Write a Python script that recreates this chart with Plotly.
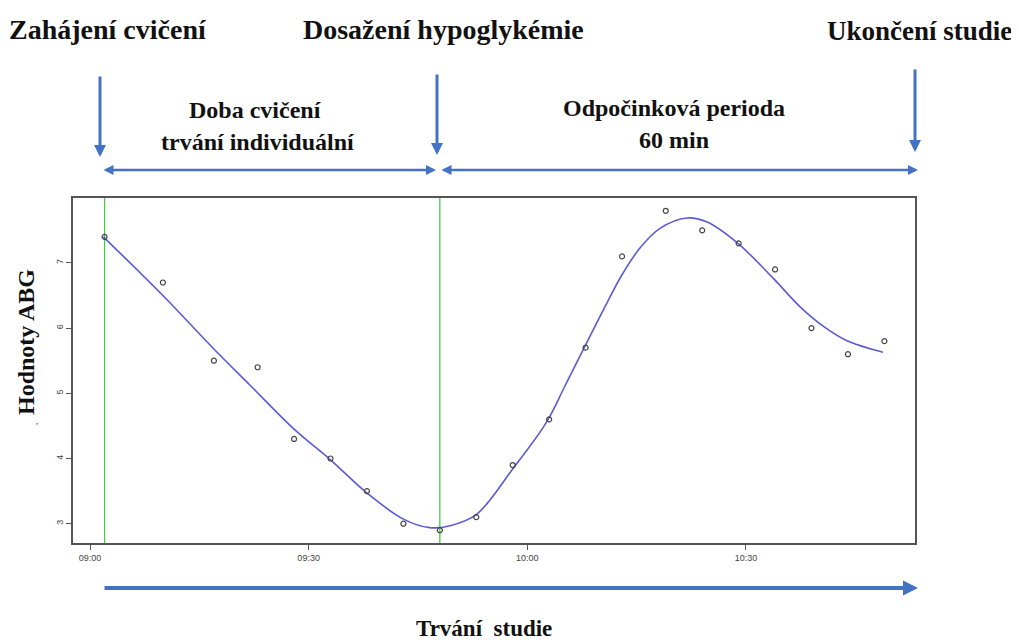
import plotly.graph_objects as go

# ---------------- data ----------------
point_times = ["09:02", "09:10", "09:17", "09:23", "09:28", "09:33", "09:38", "09:43",
               "09:48", "09:53", "09:58", "10:03", "10:08", "10:13", "10:19", "10:24",
               "10:29", "10:34", "10:39", "10:44", "10:49"]
point_values = [7.4, 6.7, 5.5, 5.4, 4.3, 4.0, 3.5, 3.0, 2.9, 3.1, 3.9, 4.6, 5.7, 7.1,
                7.8, 7.5, 7.3, 6.9, 6.0, 5.6, 5.8]

# smoothed (fitted) curve
curve_times = ["09:01:50", "09:10:00", "09:17:00", "09:22:00", "09:28:00", "09:33:00",
               "09:38:00", "09:43:00", "09:46:36", "09:49:24", "09:53:00", "09:58:00",
               "10:02:36", "10:05:12", "10:07:54", "10:10:54", "10:12:54", "10:15:24",
               "10:18:12", "10:21:54", "10:24:36", "10:28:54", "10:33:42", "10:37:24",
               "10:40:36", "10:43:48", "10:48:48"]
curve_values = [7.40, 6.50, 5.68, 5.12, 4.45, 3.98, 3.47, 3.07, 2.94, 2.97, 3.14, 3.84,
                4.55, 5.12, 5.72, 6.38, 6.80, 7.22, 7.53, 7.69, 7.63, 7.30, 6.77, 6.33,
                6.03, 5.81, 5.63]

marker_times = ["09:02", "09:48"]          # green vertical lines
tick_labels = ["09:00", "09:30", "10:00", "10:30"]
y_ticks = [3, 4, 5, 6, 7]

DAY = "2024-01-01 "
def ts(hm):
    return DAY + hm

# ---------------- layout geometry (reference pixels) ----------------
OFF = 8                      # page body margin
W, H = 1019 - OFF, 640 - OFF
L, R, T, B = 73, 915, 198, 543

def px(x):
    return (x - L) / (R - L)

def py(y):
    return (B - y) / (B - T)

BLUE = "#4472C4"
SERIF = "Liberation Serif, Times New Roman, serif"
SANS = "Liberation Sans, Arial, sans-serif"

fig = go.Figure()

fig.add_trace(go.Scatter(
    x=[ts(t) for t in curve_times], y=curve_values, mode="lines",
    line=dict(color="#5b5bd6", width=1.6, shape="spline", smoothing=1.0),
    hoverinfo="skip", showlegend=False))

fig.add_trace(go.Scatter(
    x=[ts(t) for t in point_times], y=point_values, mode="markers",
    marker=dict(symbol="circle-open", size=5, color="#444444", line=dict(width=1.2)),
    showlegend=False))

shapes = []
for t in marker_times:
    shapes.append(dict(type="line", xref="x", yref="paper", x0=ts(t), x1=ts(t), y0=0, y1=1,
                       line=dict(color="#44cc44", width=1.3), layer="below"))

annotations = []

def text(x, y, s, size, angle=0, xanchor="center"):
    annotations.append(dict(xref="paper", yref="paper", x=px(x), y=py(y), text=s,
                            showarrow=False, xanchor=xanchor, yanchor="middle",
                            textangle=angle,
                            font=dict(family=SERIF, size=size, color="#111111")))

def arrow(x0, y0, x1, y1, width, size, side="end"):
    annotations.append(dict(xref="paper", yref="paper", x=px(x1), y=py(y1),
                            ax=x0 - x1, ay=y0 - y1, axref="pixel", ayref="pixel",
                            text="", showarrow=True, arrowhead=2, arrowsize=size,
                            arrowwidth=width, arrowcolor=BLUE, arrowside=side,
                            standoff=0, startstandoff=0, startarrowhead=2,
                            startarrowsize=size))

# top labels
text(7, 29, "<b>Zahájení cvičení</b>", 28, xanchor="left")
text(443, 29, "<b>Dosažení hypoglykémie</b>", 28)
text(1014, 31, "<b>Ukončení studie</b>", 27, xanchor="right")

# phase labels
text(255, 110, "<b>Doba cvičení</b>", 24)
text(257, 142, "<b>trvání individuální</b>", 24)
text(674, 108, "<b>Odpočinková perioda</b>", 24)
text(674, 140, "<b>60 min</b>", 24)

# down arrows
arrow(100, 75, 100, 157, 3, 0.8)
arrow(437, 73, 437, 155, 3, 0.8)
arrow(915, 68, 915, 152, 3, 0.8)

# double arrows
arrow(102, 170, 436, 170, 2.5, 0.8, side="end+start")
arrow(440, 170, 918, 170, 2.5, 0.8, side="end+start")

# bottom arrow
arrow(103, 588, 918, 588, 4, 0.75)

# axis titles
text(484, 628, "<b>Trvání  studie</b>", 23)
text(26, 342, "<b>Hodnoty ABG</b>", 24, angle=-90)
annotations.append(dict(xref="paper", yref="paper", x=px(34), y=py(421), text=",",
                        showarrow=False, font=dict(family=SERIF, size=9, color="#333333")))

fig.update_layout(
    width=W, height=H,
    margin=dict(l=L - OFF, r=W - (R - OFF), t=T - OFF, b=H - (B - OFF)),
    paper_bgcolor="white", plot_bgcolor="white",
    shapes=shapes, annotations=annotations,
    showlegend=False,
    xaxis=dict(type="date", range=[ts("08:57:40"), ts("10:53:12")],
               tickvals=[ts(t) for t in tick_labels], ticktext=tick_labels,
               showgrid=False, zeroline=False, showline=True, mirror=True,
               linecolor="#555555", linewidth=1.5, ticks="outside", ticklen=5,
               tickcolor="#555555", tickwidth=1.2,
               tickfont=dict(family=SANS, size=9, color="#444444")),
    yaxis=dict(range=[2.704, 7.996], tickvals=y_ticks,
               showgrid=False, zeroline=False, showline=True, mirror=True,
               linecolor="#555555", linewidth=1.5, ticks="outside", ticklen=5,
               tickcolor="#555555", tickwidth=1.2, tickangle=-90,
               tickfont=dict(family=SANS, size=9, color="#444444")),
)

fig.write_html("out.html")
